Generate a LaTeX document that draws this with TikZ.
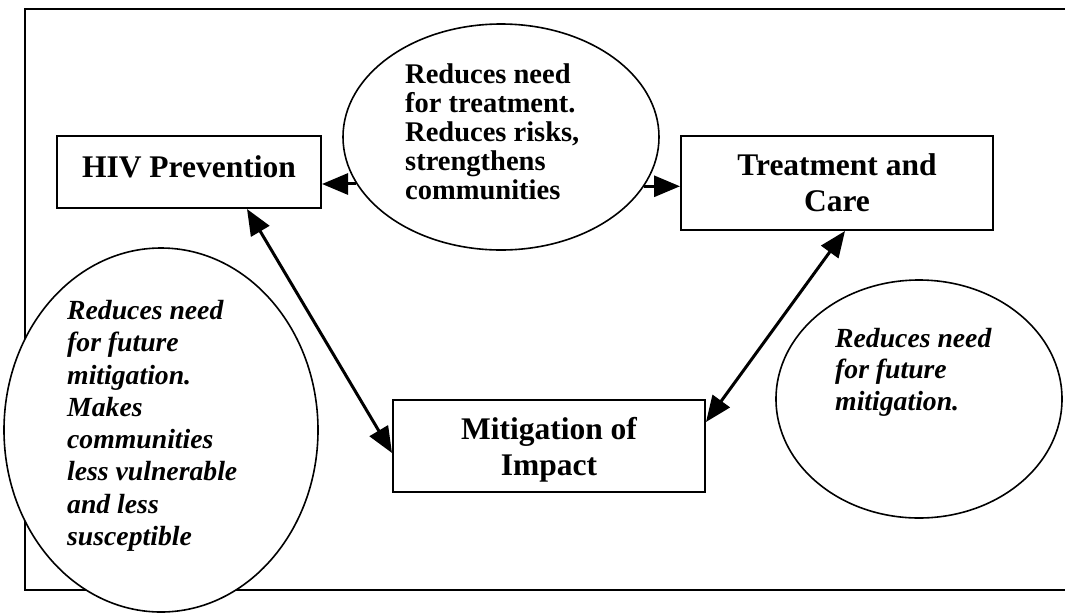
\documentclass[tikz,border=0pt]{standalone}
\usepackage{fontspec}
\setmainfont{Liberation Serif}
\usetikzlibrary{arrows.meta,shapes.geometric}
\begin{document}
\begin{tikzpicture}[x=1pt,y=-1pt,
  box/.style={draw,line width=2pt,rectangle,inner sep=0pt,align=center,
    font=\fontsize{31.5}{36}\selectfont\bfseries},
  bubble/.style={draw,line width=1.6pt,ellipse,fill=white,inner sep=0pt},
  note/.style={anchor=north west,inner sep=0pt,align=left},
  link/.style={line width=3pt,-{Triangle[length=26pt,width=21pt]}},
  dlink/.style={line width=3pt,{Triangle[length=26pt,width=21pt]}-{Triangle[length=26pt,width=21pt]}},
]
\useasboundingbox (0,0) rectangle (1065,614);
% outer frame, open on the right
\draw[line width=2.5pt] (1075,9) -- (25,9) -- (25,590) -- (1075,590);

% ellipses
\node[bubble,minimum width=316pt,minimum height=226pt] (topell) at (501,137) {};
\node[bubble,minimum width=314pt,minimum height=364pt] (leftell) at (161,430) {};
\node[bubble,minimum width=286pt,minimum height=238pt] (rightell) at (919,399) {};

% ellipse texts
\node[note,font=\fontsize{28.5}{28.8}\selectfont\bfseries] (toptext) at (405,64)
  {Reduces need\\for treatment.\\Reduces risks,\\strengthens\\communities};
\node[note,font=\fontsize{27.7}{32.3}\selectfont\bfseries\itshape] (lefttext) at (67,300)
  {Reduces need\\for future\\mitigation.\\Makes\\communities\\less vulnerable\\and less\\susceptible};
\node[note,font=\fontsize{27.7}{31.5}\selectfont\bfseries\itshape] (righttext) at (835,328)
  {Reduces need\\for future\\mitigation.};

% boxes
\node[box,minimum width=264pt,minimum height=72pt,text depth=10pt] (hiv) at (189,172) {HIV Prevention};
\node[box,minimum width=312pt,minimum height=94pt] (trt) at (837,183) {Treatment and\\Care};
\node[box,minimum width=312pt,minimum height=92pt,text depth=-5pt] (mit) at (549,446) {Mitigation of\\Impact};

% connectors
\draw[link] (topell.198.6) -- (topell.198.6 -| hiv.east);
\draw[link] (topell.341.4) -- (topell.341.4 -| trt.west);
\draw[dlink] ([xshift=58pt]hiv.south) -- ([yshift=-7pt]mit.west);
\draw[dlink] ([xshift=8pt]trt.south) -- ([yshift=24pt]mit.east);
\end{tikzpicture}
\end{document}
